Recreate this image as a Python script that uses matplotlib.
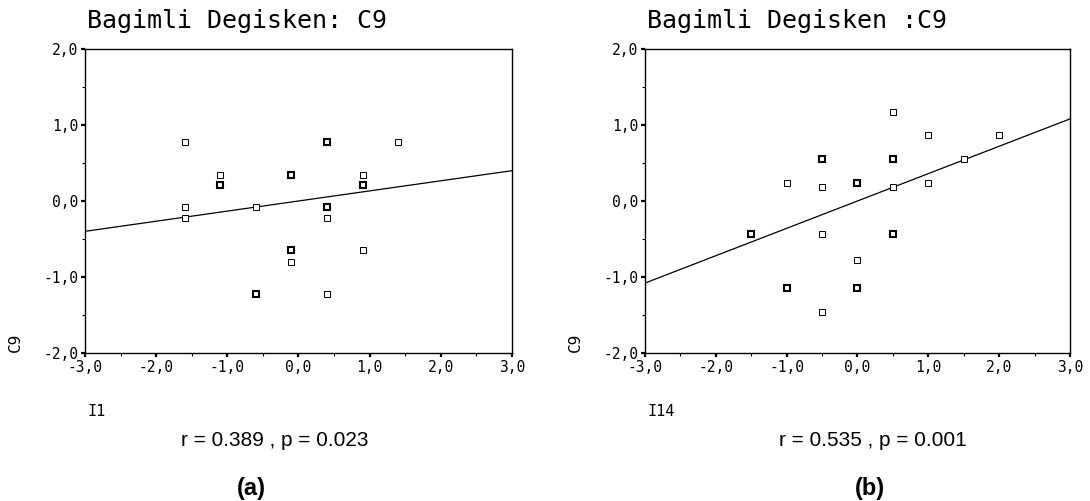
import numpy as np
from matplotlib import pyplot as plt
from matplotlib.ticker import MultipleLocator, FuncFormatter

# panel (a): I1 vs C9
x_a = [-1.6, -1.1, -1.1, -0.1, 0.4, 0.9, 0.9, 1.4, -1.6, -1.6, -0.6, 0.4, 0.4, -0.1, 0.9, -0.1, -0.6, 0.4]
y_a = [0.78, 0.34, 0.21, 0.34, 0.78, 0.34, 0.21, 0.78, -0.08, -0.22, -0.08, -0.08, -0.22, -0.64, -0.64, -0.80, -1.23, -1.23]
n_a = [1, 1, 2, 2, 2, 1, 2, 1, 1, 1, 1, 2, 1, 2, 1, 1, 2, 1]
fit_a = (0.133, 0.0)

# panel (b): I14 vs C9
x_b = [0.5, 1.0, 2.0, -0.5, 0.5, 1.5, -1.0, 0.0, 1.0, -0.5, 0.5, -1.5, -0.5, 0.5, 0.0, -1.0, 0.0, -0.5]
y_b = [1.17, 0.87, 0.87, 0.55, 0.55, 0.55, 0.24, 0.24, 0.24, 0.18, 0.18, -0.44, -0.44, -0.44, -0.77, -1.14, -1.14, -1.46]
n_b = [1, 1, 1, 2, 2, 1, 1, 2, 1, 1, 1, 2, 1, 2, 1, 2, 2, 1]
fit_b = (0.36, 0.0)

mono = 'DejaVu Sans Mono'
comma = FuncFormatter(lambda v, p: f"{v:.1f}".replace('.', ','))


def draw_panel(fig, rect, xs, ys, ns, fit, title, xlabel, stats, tag, stats_x, tag_x):
    """one SPSS style scatter with fitted line"""
    ax = fig.add_axes(rect)
    ax.set_xlim(-3, 3)
    ax.set_ylim(-2, 2)
    for x, y, n in zip(xs, ys, ns):
        ax.plot(x, y, 's', ms=4.4, mfc='white', mec='black',
                mew=0.7 + 0.8 * (n - 1), zorder=3, clip_on=False)
    line_x = np.array([-3.0, 3.0])
    ax.plot(line_x, fit[0] * line_x + fit[1], color='black', lw=0.9, zorder=2)

    ax.xaxis.set_major_locator(MultipleLocator(1))
    ax.xaxis.set_minor_locator(MultipleLocator(0.5))
    ax.yaxis.set_major_locator(MultipleLocator(1))
    ax.yaxis.set_minor_locator(MultipleLocator(0.5))
    ax.xaxis.set_major_formatter(comma)
    ax.yaxis.set_major_formatter(comma)
    ax.tick_params(which='major', direction='out', length=3, width=1.6, pad=2, labelsize=10.5)
    ax.tick_params(which='minor', direction='out', length=2.5, width=0.8)
    ax.tick_params(top=False, right=False, which='both')
    for lab in ax.get_xticklabels() + ax.get_yticklabels():
        lab.set_family(mono)
    for sp in ax.spines.values():
        sp.set_linewidth(1.0)

    ax.text(0.005, 1.069, title, transform=ax.transAxes, family=mono, fontsize=18,
            ha='left', va='baseline')
    ax.text(0.005, -0.191, xlabel, transform=ax.transAxes, family=mono, fontsize=11,
            ha='left', va='center')
    ax.text(-0.163, 0.036, 'C9', transform=ax.transAxes, family=mono, fontsize=11.5,
            rotation=90, ha='center', va='center')
    # stats line and panel tag sit in figure coordinates
    fig.text(stats_x, 1 - 440 / 501, stats, family='Liberation Sans',
             fontsize=15, ha='center', va='center')
    fig.text(tag_x, 1 - 489 / 501, tag, family='Liberation Sans',
             fontsize=17, fontweight='bold', ha='center', va='center')
    return ax


fig = plt.figure(figsize=(10.9, 5.01), dpi=100)
draw_panel(fig, [0.078, 0.2954, 0.3917, 0.6068], x_a, y_a, n_a, fit_a,
           'Bagimli Degisken: C9', 'I1', 'r = 0.389 , p = 0.023', '(a)', 0.2523, 0.2303)
draw_panel(fig, [0.5917, 0.2954, 0.3899, 0.6068], x_b, y_b, n_b, fit_b,
           'Bagimli Degisken :C9', 'I14', 'r = 0.535 , p = 0.001', '(b)', 0.801, 0.798)
fig.savefig('out.png', dpi=100)
